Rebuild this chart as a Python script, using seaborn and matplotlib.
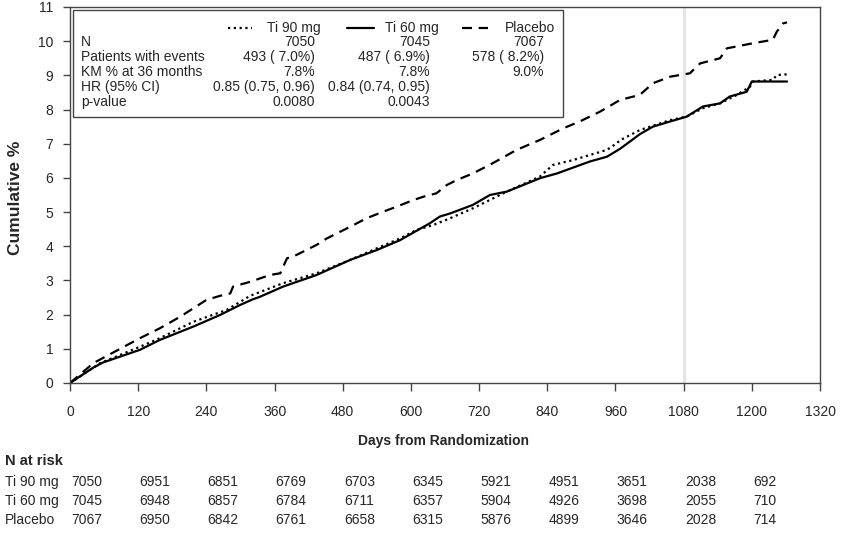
import matplotlib
matplotlib.use("Agg")
import matplotlib.pyplot as plt
from matplotlib.lines import Line2D
from matplotlib.patches import Rectangle
import matplotlib.transforms as mtransforms
import seaborn as sns
import pandas as pd

# ---------------- data ----------------
arms = ["Ti 90 mg", "Ti 60 mg", "Placebo"]

ti90_days = [0, 53, 123, 158, 217, 276, 317, 375, 434, 493, 540, 581, 610, 639, 669, 709, 769,
             827, 850, 885, 945, 962, 968, 1003, 1056, 1085, 1114, 1144, 1174, 1197, 1202, 1237, 1244, 1262]
ti90_vals = [0, 0.58, 1.06, 1.31, 1.79, 2.14, 2.55, 2.92, 3.21, 3.60, 3.94, 4.23, 4.48, 4.62, 4.82, 5.11, 5.60,
             6.04, 6.38, 6.52, 6.82, 7.01, 7.10, 7.40, 7.69, 7.79, 8.04, 8.18, 8.43, 8.67, 8.82, 8.87, 9.01, 9.03]

ti60_days = [0, 41, 58, 123, 158, 217, 264, 299, 322, 334, 375, 434, 493, 540, 581, 633, 651, 669, 709,
             739, 769, 827, 857, 915, 945, 968, 1003, 1026, 1056, 1085, 1114, 1144, 1161, 1191, 1200, 1262]
ti60_vals = [0, 0.45, 0.60, 0.97, 1.26, 1.65, 1.99, 2.28, 2.45, 2.52, 2.82, 3.16, 3.60, 3.89, 4.18, 4.67, 4.87, 4.96, 5.21,
             5.50, 5.60, 5.99, 6.13, 6.48, 6.62, 6.85, 7.28, 7.50, 7.65, 7.79, 8.09, 8.18, 8.38, 8.52, 8.82, 8.82]

pbo_days = [0, 41, 123, 158, 194, 240, 264, 282, 287, 317, 352, 370, 382, 393, 434, 452, 493, 522, 551, 575,
            604, 622, 645, 663, 681, 709, 744, 786, 827, 868, 897, 933, 968, 1003, 1026, 1056, 1091, 1109,
            1144, 1156, 1202, 1237, 1244, 1255, 1262]
pbo_vals = [0, 0.58, 1.31, 1.60, 1.94, 2.43, 2.55, 2.62, 2.82, 2.96, 3.16, 3.21, 3.65, 3.70, 4.04, 4.23, 4.57, 4.82, 5.01, 5.16,
            5.35, 5.45, 5.55, 5.79, 5.94, 6.13, 6.43, 6.82, 7.11, 7.45, 7.65, 7.94, 8.28, 8.43, 8.77, 8.96, 9.06, 9.35,
            9.50, 9.79, 9.94, 10.04, 10.28, 10.52, 10.55]

x_ticks = list(range(0, 1321, 120))
y_ticks = list(range(0, 12))

risk_days = [0, 120, 240, 360, 480, 600, 720, 840, 960, 1080, 1200]
risk_ti90 = [7050, 6951, 6851, 6769, 6703, 6345, 5921, 4951, 3651, 2038, 692]
risk_ti60 = [7045, 6948, 6857, 6784, 6711, 6357, 5904, 4926, 3698, 2055, 710]
risk_pbo = [7067, 6950, 6842, 6761, 6658, 6315, 5876, 4899, 3646, 2028, 714]

stat_labels = ["N", "Patients with events", "KM % at 36 months", "HR (95% CI)", "p-value"]
stat_ti90 = ["7050", "493 ( 7.0%)", "7.8%", "0.85 (0.75, 0.96)", "0.0080"]
stat_ti60 = ["7045", "487 ( 6.9%)", "7.8%", "0.84 (0.74, 0.95)", "0.0043"]
stat_pbo = ["7067", "578 ( 8.2%)", "9.0%", "", ""]

# ---------------- style ----------------
sns.set_theme(style="white")
plt.rcParams["font.family"] = ["Liberation Sans", "DejaVu Sans"]
plt.rcParams["font.size"] = 10

W, H = 855, 540
fig = plt.figure(figsize=(W / 100, H / 100), dpi=100)
ax = fig.add_axes([70 / W, 1 - 383 / H, 750 / W, 376 / H])

df = pd.concat([
    pd.DataFrame({"day": ti90_days, "pct": ti90_vals, "arm": arms[0]}),
    pd.DataFrame({"day": ti60_days, "pct": ti60_vals, "arm": arms[1]}),
    pd.DataFrame({"day": pbo_days, "pct": pbo_vals, "arm": arms[2]}),
])

dash_map = {arms[0]: (1, 1.6), arms[1]: "", arms[2]: (4.5, 3)}
ax.axvline(1080, color="#e6e6e6", lw=2.4, zorder=0)
sns.lineplot(data=df, x="day", y="pct", hue="arm", style="arm", dashes=dash_map,
             palette={a: "black" for a in arms}, estimator=None, sort=False,
             lw=1.6, legend=False, ax=ax)

ax.set_xlim(0, 1320)
ax.set_ylim(0, 11)
ax.set_xticks(x_ticks)
ax.set_yticks(y_ticks)
ax.set_xlabel("")
ax.set_ylabel("")
for s in ax.spines.values():
    s.set_color("#444444")
    s.set_linewidth(1.0)
    s.set_visible(True)
ax.tick_params(axis="x", direction="out", length=6, width=1, color="#444444", pad=10, labelsize=10)
ax.tick_params(axis="y", direction="out", length=5, width=1, color="#444444", pad=7, labelsize=10)
ax.tick_params(bottom=True, left=True)


def P(x, y):
    return (x / W, 1 - y / H)


fig.text(*P(15, 198), "Cumulative %", rotation=90, ha="center", va="center",
         fontsize=12.5, fontweight="bold")
fig.text(*P(444, 441), "Days from Randomization", ha="center", va="center",
         fontsize=10, fontweight="bold")

# ---------------- statistics box ----------------
box = Rectangle(P(73, 117), 490 / W, 107 / H, transform=fig.transFigure,
                fill=False, edgecolor="#444444", lw=1.0)
fig.add_artist(box)

hdr_y = 28
col_right = [321, 439, 555]
col_vals_right = [315, 430, 544]
samples = [(228, 252), (347, 374), (462, 488)]
for i, a in enumerate(arms):
    x0, x1 = samples[i]
    ln = Line2D([x0 / W, x1 / W], [1 - hdr_y / H] * 2, transform=fig.transFigure,
                color="black", lw=1.6)
    if dash_map[a]:
        ln.set_dashes(dash_map[a])
    fig.add_artist(ln)
    fig.text(*P(col_right[i], hdr_y), a, ha="right", va="center", fontsize=10)

row_y = [42, 57, 72, 87, 102]
cols = [stat_ti90, stat_ti60, stat_pbo]
for r, lab in enumerate(stat_labels):
    fig.text(*P(81, row_y[r]), lab, ha="left", va="center", fontsize=10)
    for c in range(3):
        if cols[c][r]:
            fig.text(*P(col_vals_right[c], row_y[r]), cols[c][r], ha="right", va="center", fontsize=10)

# ---------------- risk table ----------------
fig.text(*P(5, 461), "N at risk", ha="left", va="center", fontsize=10.5, fontweight="bold")
trans = mtransforms.blended_transform_factory(ax.transData, fig.transFigure)
risk_rows = [risk_ti90, risk_ti60, risk_pbo]
risk_y = [482, 501, 520]
for r, a in enumerate(arms):
    fig.text(*P(5, risk_y[r]), a, ha="left", va="center", fontsize=10)
    for d, n in zip(risk_days, risk_rows[r]):
        fig.text(d + 2, 1 - risk_y[r] / H, str(n), transform=trans, ha="left", va="center", fontsize=10)

fig.savefig("out.png", dpi=100, facecolor="white")
